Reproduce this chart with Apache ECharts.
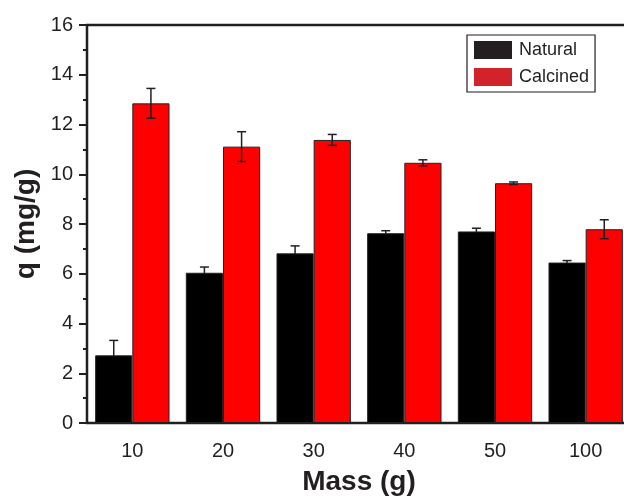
<!DOCTYPE html>
<html>
<head>
<meta charset="utf-8">
<script src="https://cdn.jsdelivr.net/npm/echarts@6/dist/echarts.min.js"></script>
<style>
  html, body { margin: 0; padding: 0; background: #fff; }
  #chart { width: 624px; height: 496px; }
</style>
</head>
<body>
<div id="chart"></div>
<script>
const categories = ['10', '20', '30', '40', '50', '100']
const natural = [2.72, 6.04, 6.82, 7.63, 7.70, 6.45]
const naturalErr = [0.6, 0.23, 0.3, 0.1, 0.13, 0.08]
const calcined = [12.85, 11.11, 11.38, 10.46, 9.64, 7.79]
const calcinedErr = [0.6, 0.6, 0.22, 0.12, 0.05, 0.38]

const font = 'Liberation Sans, Arial, sans-serif'
const textColor = '#231f20'
const barShare = 0.41

// error bars drawn at each bar's centre, offset inside the category band
const errorSeries = (values, errs, side, z) => ({
    type: 'custom',
    xAxisIndex: 0,
    z: z,
    data: values.map((v, i) => [i, v, errs[i]]),
    renderItem: (params, api) => {
        const idx = api.value(0)
        const band = api.size([1, 0])[0]
        const dx = side * band * barShare / 2
        const top = api.coord([idx, api.value(1) + api.value(2)])
        const bot = api.coord([idx, api.value(1) - api.value(2)])
        const x = top[0] + dx
        const cap = 4.5
        const style = { stroke: '#231f20', lineWidth: 1.5 }
        return {
            type: 'group',
            children: [
                { type: 'line', shape: { x1: x, y1: top[1], x2: x, y2: bot[1] }, style },
                { type: 'line', shape: { x1: x - cap, y1: top[1], x2: x + cap, y2: top[1] }, style },
                { type: 'line', shape: { x1: x - cap, y1: bot[1], x2: x + cap, y2: bot[1] }, style }
            ]
        }
    }
})

const chart = echarts.init(document.getElementById('chart'))
chart.setOption({
    animation: false,
    backgroundColor: '#fff',
    textStyle: { fontFamily: font },
    grid: {
        left: 87, top: 25, width: 544, bottom: 73,
        containLabel: false,
        outerBoundsMode: 'none',
        show: true, borderColor: '#231f20', borderWidth: 2.5
    },
    legend: {
        left: 467, top: 35,
        orient: 'vertical',
        icon: 'rect',
        itemWidth: 38, itemHeight: 18, itemGap: 9,
        padding: [6, 6, 6, 7],
        borderColor: '#231f20', borderWidth: 1.2,
        backgroundColor: '#fff',
        textStyle: { fontFamily: font, fontSize: 18, color: textColor, padding: [0, 0, 0, 2] },
        data: [
            { name: 'Natural', itemStyle: { color: '#231f20', borderWidth: 0 } },
            { name: 'Calcined', itemStyle: { color: '#d2232a', borderWidth: 0 } }
        ]
    },
    xAxis: [
        {
            type: 'category',
            data: categories,
            position: 'bottom',
            name: 'Mass (g)',
            nameLocation: 'middle',
            nameGap: 45,
            nameTextStyle: { fontFamily: font, fontSize: 28, fontWeight: 'bold', color: textColor },
            axisLine: { lineStyle: { color: '#231f20', width: 2 } },
            axisTick: { alignWithLabel: true, length: 7, lineStyle: { color: '#231f20', width: 2 } },
            axisLabel: { fontFamily: font, fontSize: 20, color: textColor, margin: 18 },
            splitLine: { show: false }
        },
        {
            type: 'category',
            data: categories,
            position: 'bottom',
            axisLine: { show: false },
            axisTick: { length: 4, lineStyle: { color: '#231f20', width: 2 } },
            axisLabel: { show: false },
            splitLine: { show: false }
        }
    ],
    yAxis: {
        type: 'value',
        min: 0, max: 16, interval: 2,
        name: 'q (mg/g)',
        nameLocation: 'middle',
        nameGap: 44,
        nameTextStyle: { fontFamily: font, fontSize: 28, fontWeight: 'bold', color: textColor },
        axisLine: { show: true, lineStyle: { color: '#231f20', width: 2 } },
        axisTick: { show: true, length: 8, lineStyle: { color: '#231f20', width: 2 } },
        minorTick: { show: true, splitNumber: 2, length: 4, lineStyle: { color: '#231f20', width: 2 } },
        axisLabel: { fontFamily: font, fontSize: 20, color: textColor, margin: 14 },
        splitLine: { show: false }
    },
    series: [
        {
            name: 'Natural', type: 'bar', xAxisIndex: 0, z: 2,
            data: natural,
            barWidth: (barShare * 100) + '%', barGap: '0%',
            itemStyle: { color: '#000', borderColor: '#222', borderWidth: 1 }
        },
        {
            name: 'Calcined', type: 'bar', xAxisIndex: 0, z: 2,
            data: calcined,
            barWidth: (barShare * 100) + '%', barGap: '0%',
            itemStyle: { color: '#ff0000', borderColor: '#222', borderWidth: 1 }
        },
        errorSeries(natural, naturalErr, -1, 1),
        errorSeries(calcined, calcinedErr, 1, 5)
    ]
})
</script>
</body>
</html>
